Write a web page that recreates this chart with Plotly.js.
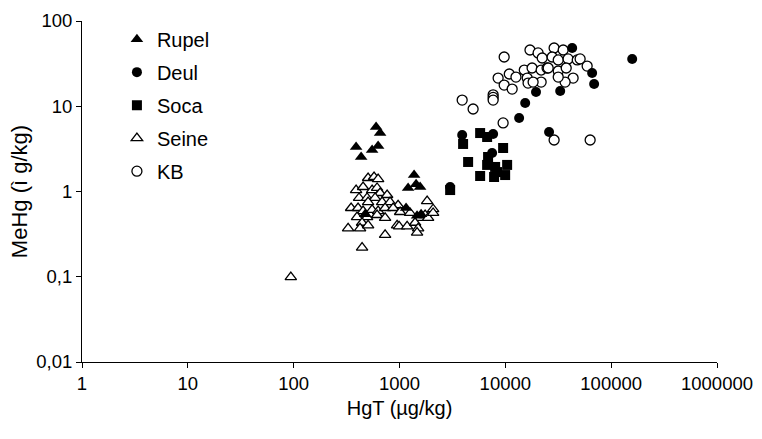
<!DOCTYPE html>
<html>
<head>
<meta charset="utf-8">
<script src="https://cdn.plot.ly/plotly-3.0.1.min.js"></script>
<style>html,body{margin:0;padding:0;background:#fff;}#chart{width:762px;height:439px;}</style>
</head>
<body>
<div id="chart"></div>
<script>
// Data (HgT in µg/kg, MeHg)
const rupelX = [601, 656, 389, 628, 551, 434, 1374, 1206, 1435, 1566, 1154, 1466, 1600, 473];
const rupelY = [5.7, 4.85, 3.33, 3.42, 3.07, 2.54, 1.56, 1.10, 1.22, 1.13, 0.64, 0.52, 0.54, 0.54];

const deulX = [3910, 7670, 3010, 7500, 13500, 15400, 19500, 25900, 33000, 42800, 66100, 69000, 158000];
const deulY = [4.60, 4.72, 1.13, 2.83, 7.28, 10.9, 14.7, 4.99, 15.1, 48.2, 24.5, 18.2, 35.8];

const socaX = [3990, 5780, 6730, 9530, 4450, 6870, 6730, 8010, 10400, 5780, 7830, 9960, 8360, 3010];
const socaY = [3.61, 4.85, 4.36, 3.24, 2.22, 2.54, 2.05, 1.94, 2.05, 1.52, 1.48, 1.56, 1.69, 1.04];

const seineX = [505, 575, 628, 389, 453, 551, 614, 656, 764, 415, 494, 588, 505, 685, 815, 970,
  349, 406, 453, 551, 628, 731, 871, 397, 494, 614, 731, 949, 443, 327, 424, 505, 731, 443,
  1824, 1014, 2078, 1259, 1566, 1746, 1863, 991, 1180, 1403, 1500, 1466, 2078, 94];
const seineY = [1.44, 1.48, 1.40, 1.04, 1.13, 1.04, 1.10, 0.96, 0.91, 0.84, 0.84, 0.84, 0.75, 0.75, 0.75, 0.69,
  0.64, 0.64, 0.59, 0.61, 0.59, 0.64, 0.64, 0.50, 0.50, 0.53, 0.49, 0.40, 0.43, 0.37, 0.37, 0.40, 0.31, 0.22,
  0.77, 0.575, 0.62, 0.56, 0.49, 0.53, 0.49, 0.39, 0.39, 0.43, 0.37, 0.33, 0.56, 0.099];

const kbX = [9750, 17100, 20400, 22300, 15100, 17900, 21800, 24800, 10900, 12600, 8550, 16100, 9750, 11600,
  16400, 21800, 18300, 7670, 7670, 7670, 3910, 4960, 9530, 28900, 35200, 27700, 31600, 39200, 47800, 50900,
  59300, 25400, 31600, 37600, 43700, 36700, 31600, 28900, 63300];
const kbY = [37.8, 45.7, 42.2, 36.8, 26.6, 28.1, 26.6, 28.1, 23.9, 22.0, 21.4, 21.4, 17.7, 15.9,
  18.7, 19.2, 19.2, 13.6, 12.7, 11.8, 11.8, 9.29, 6.37, 48.2, 45.7, 37.8, 34.9, 35.9, 34.9, 35.9,
  29.6, 28.1, 25.9, 28.1, 21.4, 19.2, 22.0, 4.02, 4.02];

const xTickVals = [1, 10, 100, 1000, 10000, 100000, 1000000];
const xTickText = ["1", "10", "100", "1000", "10000", "100000", "1000000"];
const yTickVals = [0.01, 0.1, 1, 10, 100];
const yTickText = ["0,01", "0,1", "1", "10", "100"];

const FONT = "Liberation Sans, Arial, sans-serif";
const openLine = {color: "#000", width: 1.3};

const traces = [
  {name: "Seine", x: seineX, y: seineY, legendrank: 4, legendgroup: "d",
   marker: {symbol: "triangle-up", size: 10, color: "#fff", line: openLine}},
  {name: "KB", x: kbX, y: kbY, legendrank: 5, legendgroup: "e",
   marker: {symbol: "circle", size: 10, color: "#fff", line: openLine}},
  {name: "Rupel", x: rupelX, y: rupelY, legendrank: 1, legendgroup: "a",
   marker: {symbol: "triangle-up", size: 11, color: "#000", line: {width: 0}}},
  {name: "Deul", x: deulX, y: deulY, legendrank: 2, legendgroup: "b",
   marker: {symbol: "circle", size: 10, color: "#000", line: {width: 0}}},
  {name: "Soca", x: socaX, y: socaY, legendrank: 3, legendgroup: "c",
   marker: {symbol: "square", size: 10, color: "#000", line: {width: 0}}}
].map(t => Object.assign({type: "scatter", mode: "markers"}, t));

const axisCommon = {
  type: "log", showgrid: false, zeroline: false, showline: true, linecolor: "#000", linewidth: 1,
  ticks: "outside", ticklen: 5, tickcolor: "#000", tickwidth: 1, tickmode: "array",
  tickfont: {family: FONT, size: 18.5, color: "#000"}, automargin: false
};

const layout = {
  width: 762, height: 439,
  margin: {l: 82, r: 45, t: 21, b: 77},
  paper_bgcolor: "#fff", plot_bgcolor: "#fff",
  font: {family: FONT, size: 16, color: "#000"},
  xaxis: Object.assign({}, axisCommon, {
    range: [0, 6], tickvals: xTickVals, ticktext: xTickText,
    title: {text: "HgT (µg/kg)", font: {family: FONT, size: 20, color: "#000"}, standoff: 7}
  }),
  yaxis: Object.assign({}, axisCommon, {
    range: [-2, 2], tickvals: yTickVals, ticktext: yTickText,
    title: {text: "MeHg (ì g/kg)", font: {family: FONT, size: 22, color: "#000"}, standoff: 2}
  }),
  showlegend: true,
  legend: {
    x: 0.055, y: 1.004, xanchor: "left", yanchor: "top",
    bgcolor: "rgba(0,0,0,0)", borderwidth: 0,
    traceorder: "grouped", tracegroupgap: 4,
    font: {family: FONT, size: 20, color: "#000"}
  }
};

Plotly.newPlot("chart", traces, layout, {displayModeBar: false, staticPlot: true});
</script>
</body>
</html>
